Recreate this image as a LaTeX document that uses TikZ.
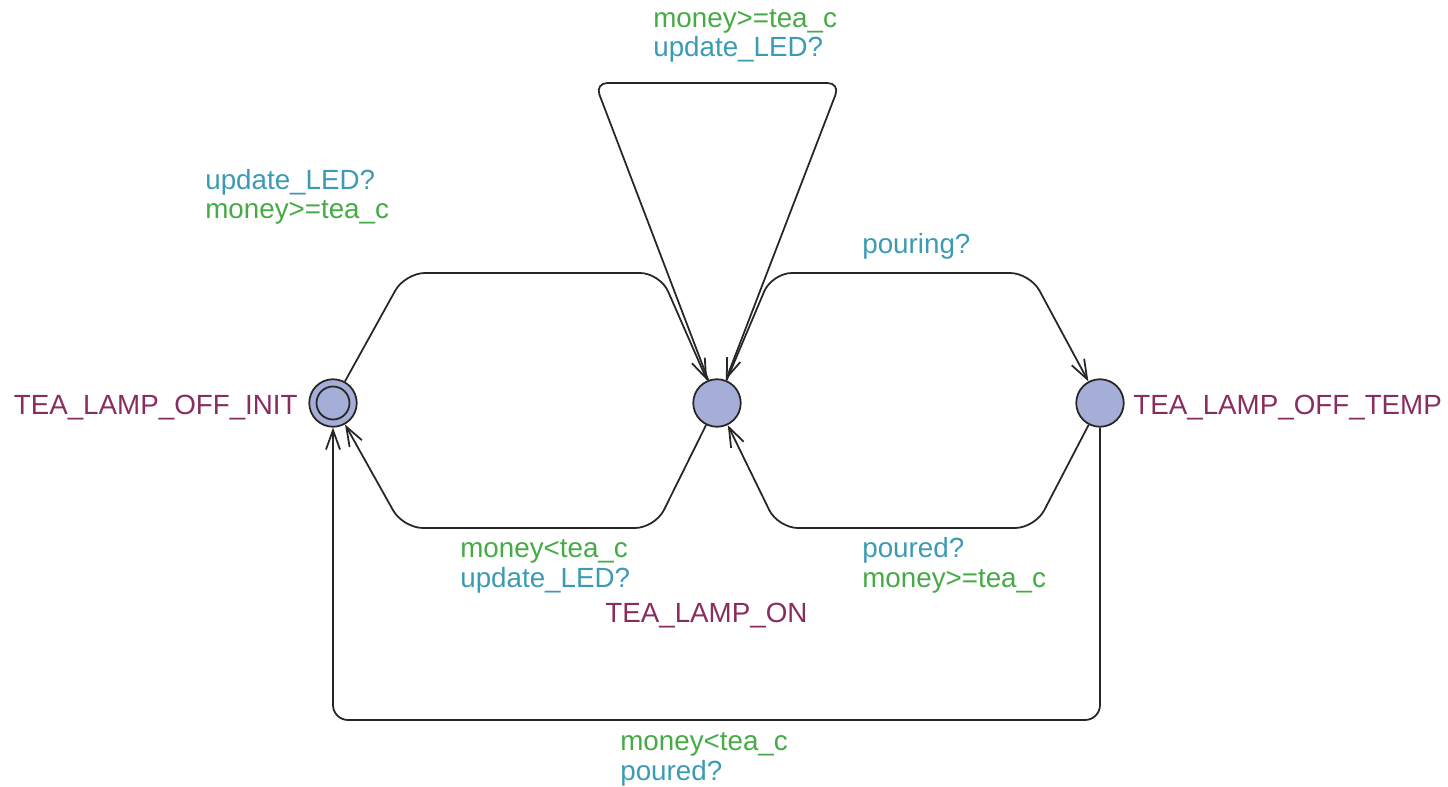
\documentclass[tikz,border=0pt]{standalone}
\usepackage{fontspec}
\setmainfont{Liberation Sans}
\usepackage{tikz}
\usetikzlibrary{calc, arrows.meta}
\definecolor{guardcol}{RGB}{70,170,70}
\definecolor{synccol}{RGB}{60,155,180}
\definecolor{namecol}{RGB}{135,45,95}
\definecolor{locfill}{RGB}{165,174,214}
\tikzstyle{location} = [circle, draw=black!85, fill=locfill, line width=1pt, minimum size=0.95cm, inner sep=0pt]
\tikzstyle{trans}    = [line width=1pt, black!85, ->, >={Straight Barb[length=11pt, width=8pt]}, rounded corners=0.4cm]
\tikzstyle{lbl}      = [inner sep=0pt, anchor=base west, align=left, font=\fontsize{15.8pt}{17pt}\selectfont]

\begin{document}
\begin{tikzpicture}[x=0.02cm, y=-0.02cm]
  \useasboundingbox (0,0) rectangle (1448,787);
  % locations
  \node[location] (Init) at (333,403) {};
  \node[circle, draw=black!85, line width=1pt, minimum size=0.66cm, inner sep=0pt] (InitInner) at (Init) {};
  \node[location] (On)   at (717,403) {};
  \node[location] (Temp) at (1100,403) {};
  \node[lbl, text=namecol, anchor=base east] (InitName) at (298,415) {TEA\_LAMP\_OFF\_INIT};
  \node[lbl, text=namecol] (OnName)   at (605,622) {TEA\_LAMP\_ON};
  \node[lbl, text=namecol] (TempName) at (1133,415) {TEA\_LAMP\_OFF\_TEMP};
  % nails
  \coordinate (InitOnA) at (405,273);
  \coordinate (InitOnB) at (660,273);
  \coordinate (LoopA) at (595,83);
  \coordinate (LoopB) at (840,83);
  \coordinate (OnTempA) at (772,273);
  \coordinate (OnTempB) at (1030,273);
  \coordinate (OnInitA) at (655,528);
  \coordinate (OnInitB) at (403,528);
  \coordinate (TempOnA) at (1035,528);
  \coordinate (TempOnB) at (778,528);
  \coordinate (TempInitA) at (1100,720);
  \coordinate (TempInitB) at (333,720);
  % transitions
  \draw[trans] (Init) -- (InitOnA) -- (InitOnB) -- (On);
  \draw[trans, rounded corners=0.25cm] (On) -- (LoopA) -- (LoopB) -- (On);
  \draw[trans] (On) -- (OnTempA) -- (OnTempB) -- (Temp);
  \draw[trans] (On) -- (OnInitA) -- (OnInitB) -- (Init);
  \draw[trans] (Temp) -- (TempOnA) -- (TempOnB) -- (On);
  \draw[trans, rounded corners=0.3cm] (Temp) -- (TempInitA) -- (TempInitB) -- (Init);
  % labels (base = last line)
  \node[lbl] (InitOnLbl) at (205,219) {\color{synccol}update\_LED?\\\color{guardcol}money>=tea\_c};
  \node[lbl] (LoopLbl) at (653,57) {\color{guardcol}money>=tea\_c\\\color{synccol}update\_LED?};
  \node[lbl, text=synccol] (OnTempLbl) at (862,254) {pouring?};
  \node[lbl] (OnInitLbl) at (460,587) {\color{guardcol}money<tea\_c\\\color{synccol}update\_LED?};
  \node[lbl] (TempOnLbl) at (862,587) {\color{synccol}poured?\\\color{guardcol}money>=tea\_c};
  \node[lbl] (TempInitLbl) at (620,780) {\color{guardcol}money<tea\_c\\\color{synccol}poured?};
\end{tikzpicture}
\end{document}
